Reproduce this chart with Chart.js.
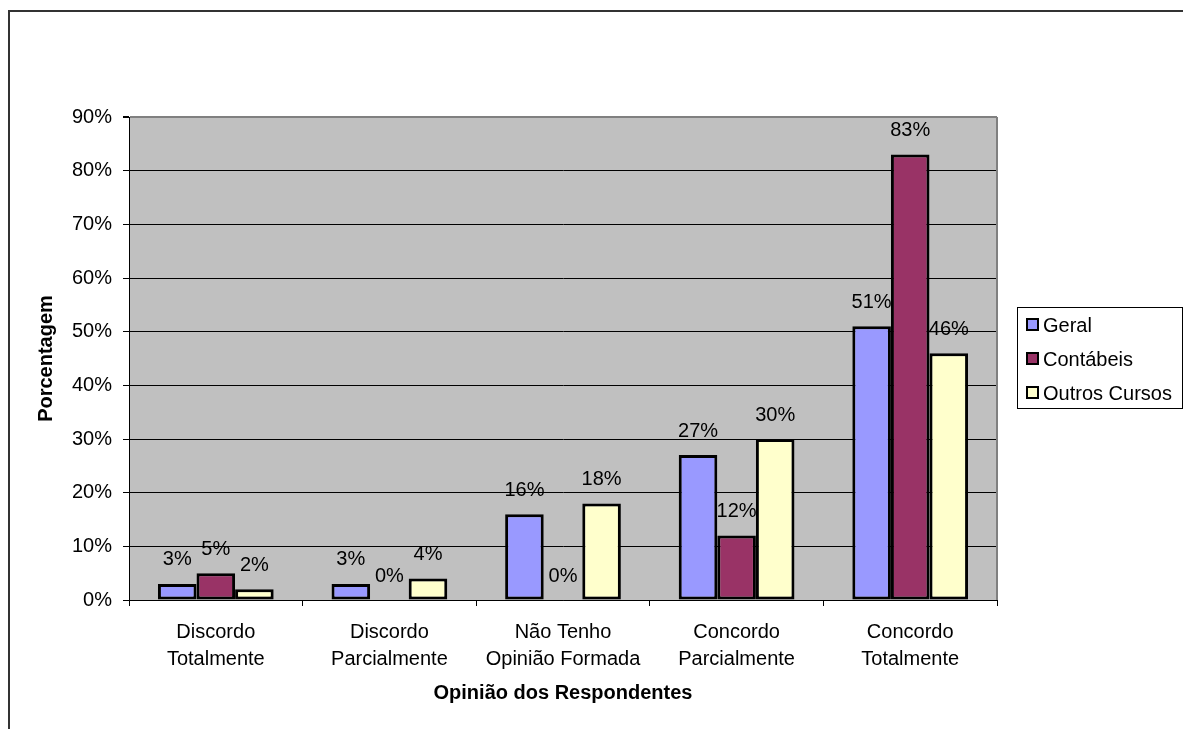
<!DOCTYPE html>
<html>
<head>
<meta charset="utf-8">
<title>Opinião dos Respondentes</title>
<script src="https://cdn.jsdelivr.net/npm/chart.js@4"></script>
<style>
  html, body { margin: 0; padding: 0; background: #fff; }
  #wrap { position: relative; width: 1183px; height: 729px; overflow: hidden; font-family: 'Liberation Sans', Arial, sans-serif; }
  #frame { position: absolute; left: 8px; top: 10px; width: 1300px; height: 800px; border-left: 2px solid #333; border-top: 2px solid #333; }
  canvas { position: absolute; left: 0; top: 0; }
  #legend { position: absolute; left: 1017px; top: 307px; width: 164px; height: 100px; border: 1px solid #000; background: #fff; font-size: 20px; color: #000; }
  .item { position: relative; height: 34px; line-height: 34px; padding-left: 25px; white-space: nowrap; }
  .swatch { position: absolute; left: 8px; top: 10px; width: 9px; height: 9px; border: 2px solid #000; }
</style>
</head>
<body>
<div id="wrap">
  <div id="frame"></div>
  <canvas id="chart" width="1183" height="729"></canvas>
  <div id="legend"></div>
</div>
<script>
// dados (%)
const categories = [
  ["Discordo", "Totalmente"],
  ["Discordo", "Parcialmente"],
  ["Não Tenho", "Opinião Formada"],
  ["Concordo", "Parcialmente"],
  ["Concordo", "Totalmente"]
];
const geral = [3, 3, 16, 27, 51];
const contabeis = [5, 0, 0, 12, 83];
const outrosCursos = [2, 4, 18, 30, 46];
const seriesNames = ["Geral", "Contábeis", "Outros Cursos"];
const seriesColors = ["#9999FF", "#993366", "#FFFFCC"];
const yMax = 90;
const yStep = 10;

Chart.defaults.font.family = "'Liberation Sans', Arial, sans-serif";
Chart.defaults.font.size = 20;
Chart.defaults.color = "#000";

// fundo cinza da área de plotagem + borda direita
const plotArea = {
  id: "plotArea",
  beforeDraw(chart) {
    const { ctx, chartArea: a } = chart;
    ctx.save();
    ctx.fillStyle = "#C0C0C0";
    ctx.fillRect(a.left, a.top, a.right - a.left, a.bottom - a.top);
    ctx.restore();
  },
  beforeDatasetsDraw(chart) {
    const { ctx, chartArea: a } = chart;
    ctx.save();
    ctx.strokeStyle = "#808080";
    ctx.lineWidth = 2;
    ctx.beginPath();
    ctx.moveTo(a.right, a.top);
    ctx.lineTo(a.right, a.bottom);
    ctx.stroke();
    ctx.restore();
  }
};

// rótulos de valor acima das barras
const valueLabels = {
  id: "valueLabels",
  afterDatasetsDraw(chart) {
    const { ctx } = chart;
    ctx.save();
    ctx.font = "20px 'Liberation Sans', Arial, sans-serif";
    ctx.fillStyle = "#000";
    ctx.textAlign = "center";
    ctx.textBaseline = "middle";
    chart.data.datasets.forEach((ds, i) => {
      chart.getDatasetMeta(i).data.forEach((bar, j) => {
        ctx.fillText(ds.data[j] + "%", bar.x, bar.y - 24);
      });
    });
    ctx.restore();
  }
};

const seriesData = [geral, contabeis, outrosCursos];

const chart = new Chart(document.getElementById("chart"), {
  type: "bar",
  data: {
    labels: categories,
    datasets: seriesNames.map((name, i) => ({
      label: name,
      data: seriesData[i],
      backgroundColor: seriesColors[i],
      borderColor: "#000",
      borderWidth: 3,
      borderSkipped: false,
      categoryPercentage: 3 / 4.5,
      barPercentage: 1
    }))
  },
  options: {
    responsive: false,
    animation: false,
    layout: { padding: { left: 0, top: 117, right: 186, bottom: 0 } },
    plugins: {
      legend: { display: false },
      tooltip: { enabled: false }
    },
    scales: {
      x: {
        grid: { drawOnChartArea: false, offset: true, tickLength: 6, color: "#000" },
        border: { color: "#000", width: 1 },
        ticks: { color: "#000", padding: 13, maxRotation: 0, autoSkip: false, font: { size: 20, lineHeight: 1.35 } },
        title: { display: true, text: "Opinião dos Respondentes", color: "#000", font: { size: 20, weight: "bold" }, padding: { top: 0, bottom: 24 } },
        afterFit(s) { s.height = 129; }
      },
      y: {
        min: 0,
        max: yMax,
        ticks: { stepSize: yStep, color: "#000", padding: 11, callback: v => v + "%" },
        grid: {
          color: c => (c.tick && c.tick.value === yMax ? "#808080" : "#000"),
          lineWidth: c => (c.tick && c.tick.value === yMax ? 2 : 1),
          tickColor: "#000",
          tickLength: 6
        },
        border: { color: "#000", width: 1 },
        title: { display: true, text: "Porcentagem", color: "#000", font: { size: 20, weight: "bold" }, padding: { top: 34, bottom: 0 } },
        afterFit(s) { s.width = 129; }
      }
    }
  },
  plugins: [plotArea, valueLabels]
});

// legenda em HTML a partir dos datasets
const legend = document.getElementById("legend");
chart.data.datasets.forEach(ds => {
  const item = document.createElement("div");
  item.className = "item";
  const sw = document.createElement("span");
  sw.className = "swatch";
  sw.style.background = ds.backgroundColor;
  item.appendChild(sw);
  item.appendChild(document.createTextNode(ds.label));
  legend.appendChild(item);
});
</script>
</body>
</html>
